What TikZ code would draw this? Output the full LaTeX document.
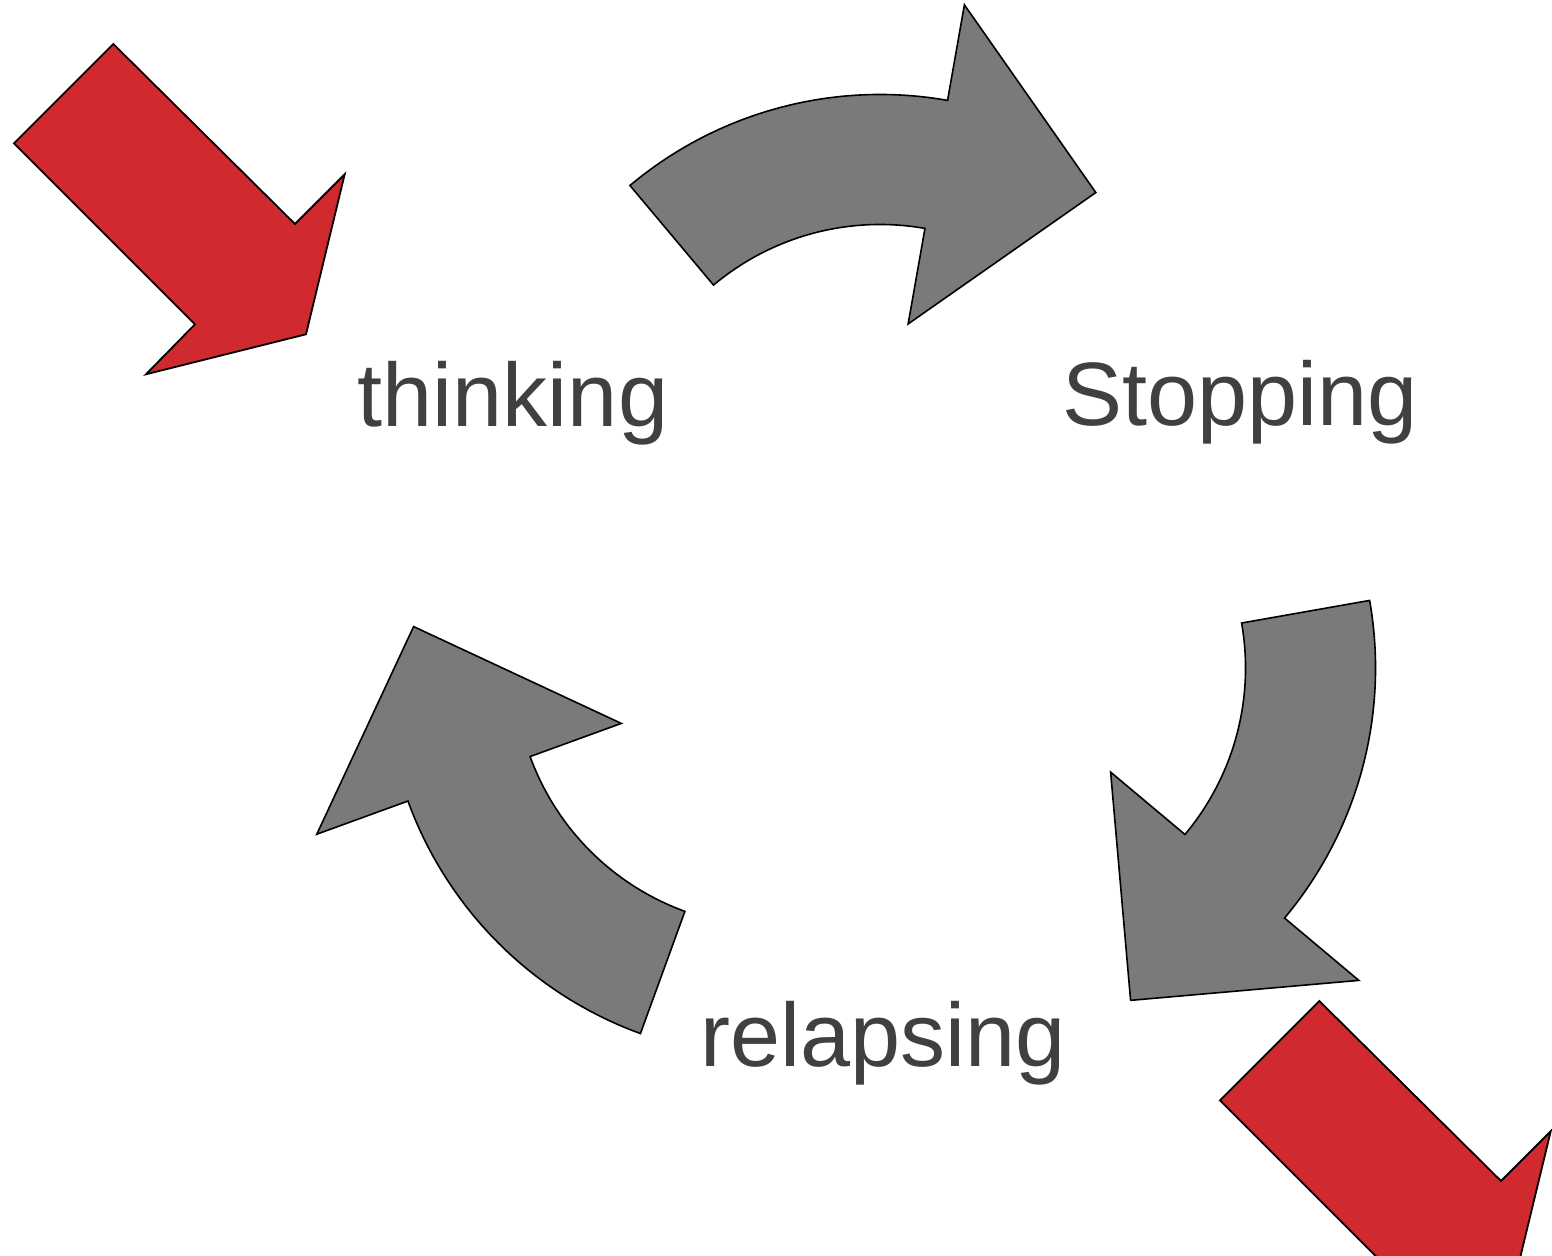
\documentclass[tikz,border=0pt]{standalone}
\usepackage{fontspec}
\setmainfont{Liberation Sans}
\definecolor{entryred}{RGB}{208, 41, 46}
\definecolor{cyclegray}{RGB}{122, 122, 122}
\definecolor{labelgray}{RGB}{64, 64, 64}
\usepackage{tikz}
\usepackage{xcolor}
\usetikzlibrary{calc}

\tikzset{
    cyclearrow/.style={fill=cyclegray, draw=black, line width=1.6pt, line join=miter},
    entryarrow/.style={fill=entryred, draw=black, line width=1.8pt, line join=miter},
    stagelabel/.style={text=labelgray, anchor=base, inner sep=0pt, font=\fontsize{90}{100}\selectfont}
}

\begin{document}
\begin{tikzpicture}[x=1pt, y=1pt]
                \useasboundingbox (0,0) rectangle (1552,1255);
                \clip (0,0) rectangle (1552,1255);
                % hub of the cycle
                \coordinate (hub) at (880,648.5);
                % the three curved cycle arrows
                \foreach \s [count=\i] in {130,10,-110} {
                    \pgfmathsetmacro\e{\s-50}
                    \pgfmathsetmacro\d{\s-40}
                    \pgfmathsetmacro\t{\s-140}
                    \coordinate (c\i) at ($(hub)+(\d:123)$);
                    \draw[cyclearrow] ($(c\i)+(\s:389)$) arc[start angle=\s, end angle=\e, radius=389]
                        -- ($(c\i)+(\e:486)$) -- ($(c\i)+(\e:324)+(\t:162)$) -- ($(c\i)+(\e:162)$)
                        -- ($(c\i)+(\e:259)$) arc[start angle=\e, end angle=\s, radius=259] -- cycle;
                }
                % entry and exit arrows
                \foreach \dx/\dy in {0/0, 1206/-957} {
                    \draw[entryarrow, shift={(\dx,\dy)}] (14,1111.7) -- (113.3,1211) -- (295,1031)
                        -- (344.7,1080.7) -- (306,920.7) -- (146,880.7) -- (195,930.7) -- cycle;
                }
                % stage labels
                \node[stagelabel] (thinking) at (513,828) {thinking};
                \node[stagelabel] (stopping) at (1240,829) {Stopping};
                \node[stagelabel] (relapsing) at (883,188) {relapsing};
            \end{tikzpicture}
\end{document}
